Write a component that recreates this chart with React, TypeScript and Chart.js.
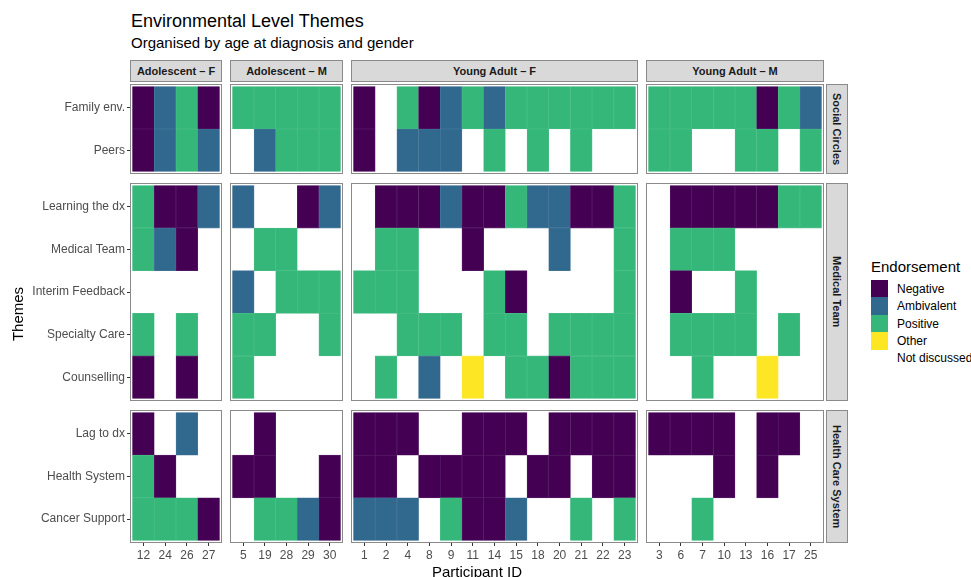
import React, { useEffect, useRef } from 'react';
import { Chart, registerables } from 'chart.js';

Chart.register(...registerables);

// ---------- data ----------
const THEMES = [
  'Family env.',
  'Peers',
  'Learning the dx',
  'Medical Team',
  'Interim Feedback',
  'Specialty Care',
  'Counselling',
  'Lag to dx',
  'Health System',
  'Cancer Support',
];
const THEME_GROUPS = ['Social Circles', 'Medical Team', 'Health Care System'];
const THEME_GROUP_SIZES = [2, 5, 3];

const COHORTS = ['Adolescent – F', 'Adolescent – M', 'Young Adult – F', 'Young Adult – M'];

const participantsAdolescentF = ['12', '24', '26', '27'];
const participantsAdolescentM = ['5', '19', '28', '29', '30'];
const participantsYoungAdultF = ['1', '2', '4', '8', '9', '11', '14', '15', '18', '20', '21', '22', '23'];
const participantsYoungAdultM = ['3', '6', '7', '10', '13', '16', '17', '25'];

// N = Negative, A = Ambivalent, P = Positive, O = Other, . = Not discussed (one string per theme)
const codesAdolescentF = ['NAPN', 'NAPA', 'PNNA', 'PAN.', '....', 'P.P.', 'N.N.', 'N.A.', 'PN..', 'PPPN'];
const codesAdolescentM = ['PPPPP', '.APPP', 'A..NA', '.PP..', 'A.PPP', 'PP..P', 'P....', '.N...', 'NN..N', '.PPAN'];
const codesYoungAdultF = [
  'N.PNAPAPPPPPP',
  'N.AAA.P.P.P..',
  '.NNNANNPAANNP',
  '.PP..N...A..P',
  'PPP...PN....P',
  '..PPP.PP.PPPP',
  '.P.A.O.PPNPPP',
  'NNN..NNN.NNNN',
  'NN.NNNN.NN.NN',
  'AAA.PNNA..P.P',
];
const codesYoungAdultM = ['PPPPPNPA', 'PP..PP.P', '.NNNNNPP', '.PPP....', '.N..P...', '.PPPP.P.', '..P..O..', 'NNNN.NN.', '...N.N..', '..P.....'];

const PARTICIPANTS = [participantsAdolescentF, participantsAdolescentM, participantsYoungAdultF, participantsYoungAdultM];
const CODES = [codesAdolescentF, codesAdolescentM, codesYoungAdultF, codesYoungAdultM];

const ENDORSEMENT_LABELS = ['Negative', 'Ambivalent', 'Positive', 'Other', 'Not discussed'];
const ENDORSEMENT_CODES = ['N', 'A', 'P', 'O', '.'];
const ENDORSEMENT_COLORS = ['#440154', '#31688E', '#35B779', '#FDE725', 'rgba(0,0,0,0)'];

// ---------- layout ----------
const FONT = '"Liberation Sans", Arial, Helvetica, sans-serif';
const LEFT = 130;
const TOP = 84;
const COL_UNIT = 21.65;
const ROW_UNIT = 42.7;
const PAD = 2.5;
const GAP = 8.3;
const Y_AXIS_W = 110;
const X_AXIS_H = 24;
const BORDER = '#8a8a8a';

Chart.defaults.font.family = FONT;

function colBoxes() {
  const out: { x: number; w: number }[] = [];
  let x = LEFT;
  PARTICIPANTS.forEach((p) => {
    const w = p.length * COL_UNIT + 2 * PAD;
    out.push({ x: Math.round(x), w: Math.round(x + w) - Math.round(x) });
    x += w + GAP;
  });
  return out;
}
function rowBoxes() {
  const out: { y: number; h: number }[] = [];
  let y = TOP;
  THEME_GROUP_SIZES.forEach((n) => {
    const h = n * ROW_UNIT + 2 * PAD;
    out.push({ y: Math.round(y), h: Math.round(y + h) - Math.round(y) });
    y += h + GAP;
  });
  return out;
}

function colorOf(code: string) {
  return ENDORSEMENT_COLORS[ENDORSEMENT_CODES.indexOf(code)];
}
function lighten(code: string) {
  const hex = colorOf(code);
  if (!hex.startsWith('#')) return hex;
  const n = parseInt(hex.slice(1), 16);
  const f = (c: number) => Math.round(c + (255 - c) * 0.14);
  return `rgb(${f((n >> 16) & 255)},${f((n >> 8) & 255)},${f(n & 255)})`;
}

const panelBorder = {
  id: 'panelBorder',
  afterDraw(chart: any) {
    const { left, top, right, bottom } = chart.chartArea;
    const ctx = chart.ctx;
    ctx.save();
    ctx.strokeStyle = BORDER;
    ctx.lineWidth = 1;
    ctx.strokeRect(left + 0.5, top + 0.5, right - left - 1, bottom - top - 1);
    ctx.restore();
  },
};

type PanelProps = {
  cohort: number;
  group: number;
  box: { x: number; y: number; w: number; h: number };
  isLeft: boolean;
  isBottom: boolean;
};

function Panel({ cohort, group, box, isLeft, isBottom }: PanelProps) {
  const ref = useRef<HTMLCanvasElement>(null);
  const cw = box.w + (isLeft ? Y_AXIS_W : 0);
  const ch = box.h + (isBottom ? X_AXIS_H : 0);

  useEffect(() => {
    if (!ref.current) return;
    const participants = PARTICIPANTS[cohort];
    const codes = CODES[cohort];
    const start = THEME_GROUP_SIZES.slice(0, group).reduce((a, b) => a + b, 0);
    const size = THEME_GROUP_SIZES[group];
    const groupThemes = THEMES.slice(start, start + size);
    const groupCodes = codes.slice(start, start + size);
    const n = participants.length;
    const padX = (PAD * n) / (box.w - 2 * PAD);
    const padY = (PAD * size) / (box.h - 2 * PAD);
    const themesBottomFirst = [...groupThemes].reverse();
    const codesBottomFirst = [...groupCodes].reverse();

    const datasets = themesBottomFirst.map((theme, k) => {
      const row = codesBottomFirst[k].split('');
      return {
        label: theme,
        data: participants.map((_, i) => ({ x: i, y: 1 })),
        backgroundColor: row.map(colorOf),
        borderColor: row.map(lighten),
        borderWidth: 0.6,
        borderSkipped: false,
        barPercentage: 1,
        categoryPercentage: 1,
      };
    });

    const chart = new Chart(ref.current, {
      type: 'bar',
      data: { datasets } as any,
      options: {
        responsive: false,
        animation: false,
        events: [],
        layout: { padding: 0 },
        plugins: { legend: { display: false }, tooltip: { enabled: false }, title: { display: false } },
        scales: {
          x: {
            type: 'linear',
            stacked: true,
            offset: false,
            bounds: 'data',
            min: -0.5 - padX,
            max: n - 0.5 + padX,
            display: isBottom,
            afterBuildTicks: (s: any) => {
              s.ticks = participants.map((_, i) => ({ value: i }));
            },
            afterFit: (s: any) => {
              s.height = isBottom ? X_AXIS_H : 0;
              s.paddingLeft = 0;
              s.paddingRight = 0;
            },
            ticks: {
              callback: (_v: any, i: number) => participants[i],
              color: '#4D4D4D',
              font: { size: 12, family: FONT },
              padding: 2,
              autoSkip: false,
              maxRotation: 0,
              minRotation: 0,
            },
            grid: { offset: false, drawOnChartArea: false, drawTicks: true, tickLength: 3, color: '#333333', tickWidth: 1 },
            border: { display: false },
          },
          y: {
            type: 'linear',
            stacked: true,
            offset: false,
            bounds: 'data',
            min: -padY,
            max: size + padY,
            display: isLeft,
            afterBuildTicks: (s: any) => {
              s.ticks = themesBottomFirst.map((_, k) => ({ value: k + 0.5 }));
            },
            afterFit: (s: any) => {
              s.width = isLeft ? Y_AXIS_W : 0;
              s.paddingTop = 0;
              s.paddingBottom = 0;
            },
            ticks: {
              callback: (_v: any, i: number) => themesBottomFirst[i],
              color: '#4D4D4D',
              font: { size: 12, family: FONT },
              padding: 2,
              autoSkip: false,
            },
            grid: { offset: false, drawOnChartArea: false, drawTicks: true, tickLength: 3, color: '#333333', tickWidth: 1 },
            border: { display: false },
          },
        },
      } as any,
      plugins: [panelBorder],
    });
    return () => chart.destroy();
  }, [cohort, group, box.x, box.y, box.w, box.h, isLeft, isBottom]);

  return (
    <canvas
      ref={ref}
      width={cw}
      height={ch}
      style={{ position: 'absolute', left: box.x - (isLeft ? Y_AXIS_W : 0), top: box.y, width: cw, height: ch }}
    />
  );
}

export default function App() {
  const cols = colBoxes();
  const rows = rowBoxes();
  const right = cols[cols.length - 1].x + cols[cols.length - 1].w;
  const bottom = rows[rows.length - 1].y + rows[rows.length - 1].h;
  const keyH = 17.4;

  const textBase: React.CSSProperties = { position: 'absolute', fontFamily: FONT, lineHeight: 1, whiteSpace: 'nowrap', color: '#000' };

  return (
    <div style={{ position: 'fixed', left: 0, top: 0, width: 971, height: 577, background: '#fff', overflow: 'hidden' }}>
      <div style={{ ...textBase, left: 131, top: 11.5, fontSize: 18 }}>Environmental Level Themes</div>
      <div style={{ ...textBase, left: 131, top: 35, fontSize: 15 }}>Organised by age at diagnosis and gender</div>

      {cols.map((c, ci) => (
        <div
          key={'cs' + ci}
          style={{
            position: 'absolute',
            left: c.x,
            top: 60,
            width: c.w,
            height: 22,
            boxSizing: 'border-box',
            background: '#D9D9D9',
            border: `1px solid ${BORDER}`,
            fontFamily: FONT,
            fontWeight: 'bold',
            fontSize: 11,
            color: '#1A1A1A',
            display: 'flex',
            alignItems: 'center',
            justifyContent: 'center',
            whiteSpace: 'nowrap',
          }}
        >
          {COHORTS[ci]}
        </div>
      ))}

      {rows.map((r, ri) => (
        <div
          key={'rs' + ri}
          style={{
            position: 'absolute',
            left: right + 2,
            top: r.y,
            width: 22,
            height: r.h,
            boxSizing: 'border-box',
            background: '#D9D9D9',
            border: `1px solid ${BORDER}`,
            fontFamily: FONT,
            fontWeight: 'bold',
            fontSize: 11,
            color: '#1A1A1A',
            display: 'flex',
            alignItems: 'center',
            justifyContent: 'center',
            writingMode: 'vertical-rl',
            whiteSpace: 'nowrap',
          }}
        >
          {THEME_GROUPS[ri]}
        </div>
      ))}

      {rows.map((r, ri) =>
        cols.map((c, ci) => (
          <Panel
            key={`p${ri}-${ci}`}
            cohort={ci}
            group={ri}
            box={{ x: c.x, y: r.y, w: c.w, h: r.h }}
            isLeft={ci === 0}
            isBottom={ri === rows.length - 1}
          />
        ))
      )}

      <div
        style={{
          ...textBase,
          left: (LEFT + right) / 2 - 100,
          width: 200,
          textAlign: 'center',
          top: 563.7,
          fontSize: 15,
        }}
      >
        Participant ID
      </div>
      <div
        style={{
          ...textBase,
          left: 18 - 50,
          top: (TOP + bottom) / 2 - 9,
          width: 100,
          height: 18,
          lineHeight: '18px',
          textAlign: 'center',
          fontSize: 15,
          transform: 'rotate(-90deg)',
          transformOrigin: 'center',
        }}
      >
        Themes
      </div>

      <div style={{ ...textBase, left: 871, top: 259, fontSize: 15 }}>Endorsement</div>
      {ENDORSEMENT_LABELS.map((lab, i) => (
        <React.Fragment key={lab}>
          <div
            style={{
              position: 'absolute',
              left: 871,
              top: 280 + i * keyH,
              width: 17,
              height: keyH + 0.3,
              background: ENDORSEMENT_COLORS[i],
            }}
          />
          <div style={{ ...textBase, left: 897, top: 280 + i * keyH + keyH / 2 - 5.86, fontSize: 12 }}>{lab}</div>
        </React.Fragment>
      ))}
    </div>
  );
}
